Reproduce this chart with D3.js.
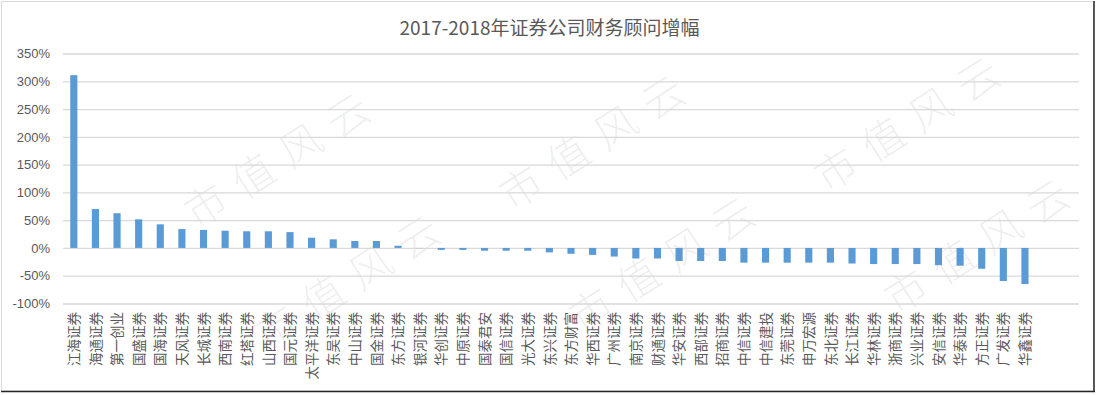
<!DOCTYPE html>
<html>
<head>
<meta charset="utf-8">
<script src="https://cdn.jsdelivr.net/npm/d3@7"></script>
<style>
html,body{margin:0;padding:0;background:#fff;}
svg{display:block;}
</style>
</head>
<body>
<svg id="chart" width="1099" height="395"></svg>
<script>
const title = "2017-2018年证券公司财务顾问增幅";
const categories = ["江海证券","海通证券","第一创业","国盛证券","国海证券","天风证券","长城证券","西南证券","红塔证券","山西证券","国元证券","太平洋证券","东吴证券","中山证券","国金证券","东方证券","银河证券","华创证券","中原证券","国泰君安","国信证券","光大证券","东兴证券","东方财富","华西证券","广州证券","南京证券","财通证券","华安证券","西部证券","招商证券","中信证券","中信建投","东莞证券","申万宏源","东北证券","长江证券","华林证券","浙商证券","兴业证券","安信证券","华泰证券","方正证券","广发证券","华鑫证券","",""];
const values = [311,70,62.5,51.5,42.5,34,32.5,31,30,30,28.5,18.5,15.5,12.5,12.5,4,-0.3,-3.5,-3.5,-5,-5,-5,-8,-10.5,-12.5,-15.5,-19,-19,-23.5,-23.5,-23.5,-26.5,-26.5,-26.5,-26.5,-26.5,-28,-29,-29,-29,-31,-32,-37.5,-59.5,-65,null,null];
const yTicks = [-100,-50,0,50,100,150,200,250,300,350];
const watermark = "市值风云";

(function(){
const svg = d3.select("#chart");
const W = 1099, H = 395;
const pLeft = 63, pRight = 1079, pTop = 53.5, pBottom = 303.5;

svg.append("rect").attr("x",0).attr("y",0).attr("width",W).attr("height",H).attr("fill","#fff");

// watermarks (decorative tiling, only those fully inside the picture)
const wm = svg.append("g").attr("pointer-events","none");
for (let i = -2; i <= 4; i++) {
  for (let j = -1; j <= 4; j++) {
    const cx = 211 + i*315 + j*70;
    const cy = 32 - i*18 + j*122;
    if (cx < 108 || cx > W-108 || cy < 80 || cy > H-80) continue;
    wm.append("text")
      .attr("transform",`translate(${cx},${cy}) rotate(-32.5)`)
      .attr("text-anchor","middle")
      .attr("dominant-baseline","central")
      .attr("font-family","'Noto Sans CJK SC'")
      .attr("font-weight",300)
      .attr("font-size",42)
      .attr("letter-spacing",14)
      .attr("fill","#000")
      .attr("fill-opacity",0.075)
      .text(watermark);
  }
}

const x = d3.scaleBand().domain(d3.range(categories.length)).range([pLeft,pRight]).paddingInner(0.67).paddingOuter(0.335);
const y = d3.scaleLinear().domain([-100,350]).range([pBottom,pTop]);

const yAxis = d3.axisLeft(y).tickValues(yTicks).tickSize(-(pRight-pLeft)).tickFormat(d=>d+"%").tickPadding(13);
const ga = svg.append("g").attr("transform",`translate(${pLeft},0)`).call(yAxis);
ga.select(".domain").remove();
ga.selectAll(".tick line").attr("stroke","#D9D9D9").attr("stroke-width",1.3);
ga.selectAll(".tick text")
  .attr("font-family","'Liberation Sans','Noto Sans CJK SC',sans-serif")
  .attr("font-size",13)
  .attr("fill","#595959");

svg.append("g").selectAll("rect")
  .data(values.map((v,i)=>({v,i})).filter(d=>d.v!==null))
  .join("rect")
  .attr("x",d=>x(d.i))
  .attr("width",x.bandwidth())
  .attr("y",d=>y(Math.max(0,d.v)))
  .attr("height",d=>Math.abs(y(d.v)-y(0)))
  .attr("fill","#5B9BD5");

const xl = svg.append("g");
categories.forEach((c,i)=>{
  if(!c) return;
  xl.append("text")
    .attr("transform",`translate(${x(i)+x.bandwidth()/2},312) rotate(-90)`)
    .attr("text-anchor","end")
    .attr("dy","0.38em")
    .attr("font-family","'Noto Sans CJK SC',sans-serif")
    .attr("font-size",13.5)
    .attr("fill","#595959")
    .text(c);
});

svg.append("text")
  .attr("x",549.5).attr("y",35)
  .attr("text-anchor","middle")
  .attr("font-family","'Noto Sans CJK SC',sans-serif")
  .attr("font-size",19)
  .attr("fill","#595959")
  .text(title);

svg.append("rect").attr("x",1.5).attr("y",1.5).attr("width",1092).attr("height",389.5)
  .attr("fill","none").attr("stroke","#D9D9D9").attr("stroke-width",1);
svg.append("line").attr("x1",1094).attr("x2",1094).attr("y1",1).attr("y2",392).attr("stroke","#262626").attr("stroke-width",1.5);
svg.append("line").attr("x1",1).attr("x2",1095).attr("y1",391.5).attr("y2",391.5).attr("stroke","#262626").attr("stroke-width",1.5);
})();
</script>
</body>
</html>
